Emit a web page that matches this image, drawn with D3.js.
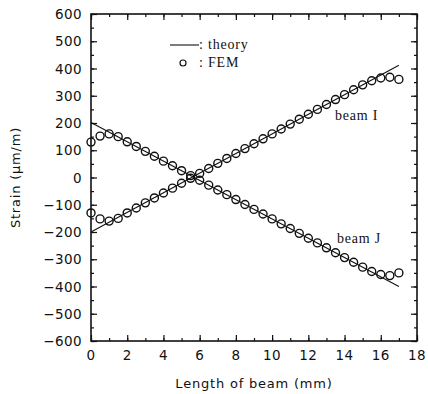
<!DOCTYPE html>
<html>
<head>
<meta charset="utf-8">
<script src="https://cdn.jsdelivr.net/npm/d3@7"></script>
<style>
  body { margin: 0; background: #fff; }
  svg { display: block; }
  .tick-label { font-family: "DejaVu Sans", sans-serif; font-size: 13.5px; fill: #111; letter-spacing: 0.4px; }
  .axis-title { font-family: "DejaVu Sans", sans-serif; font-size: 13px; fill: #111; letter-spacing: 0.8px; }
  .serif { font-family: "Liberation Serif", serif; font-size: 14px; fill: #111; letter-spacing: 0.8px; }
</style>
</head>
<body>
<script>
// beam position (mm) of each FEM node
var positions = [0, 0.5, 1, 1.5, 2, 2.5, 3, 3.5, 4, 4.5, 5, 5.5, 6, 6.5, 7, 7.5, 8, 8.5,
  9, 9.5, 10, 10.5, 11, 11.5, 12, 12.5, 13, 13.5, 14, 14.5, 15, 15.5, 16, 16.5, 17];
var femI = [-130, -152, -160, -150, -130, -112, -93, -75, -57, -39, -21, -3, 15, 33, 52, 70, 88, 106,
  124, 142, 160, 178, 196, 214, 232, 250, 268, 286, 304, 322, 340, 355, 365, 368, 360];
var femJ = [130, 152, 160, 150, 131, 114, 96, 78, 60, 43, 25, 7, -10, -28, -46, -63, -81, -99,
  -117, -134, -152, -170, -187, -205, -223, -240, -258, -276, -294, -311, -329, -345, -356, -360, -350];
// theory lines (straight)
var theoryX = [0, 17];
var theoryI = [-200, 412];
var theoryJ = [202, -400];
var xTicks = [0, 2, 4, 6, 8, 10, 12, 14, 16, 18];
var yTicks = [-600, -500, -400, -300, -200, -100, 0, 100, 200, 300, 400, 500, 600];

draw();

function draw() {
  var W = 428, H = 394;
  var left = 91, right = 417, top = 14, bottom = 341;

  var svg = d3.select('body').append('svg').attr('width', W).attr('height', H);

  var x = d3.scaleLinear().domain([0, 18]).range([left, right]);
  var y = d3.scaleLinear().domain([-600, 600]).range([bottom, top]);

  var xMinor = d3.range(0, 19, 1);
  var yMinor = d3.range(-600, 601, 50);

  // frame ticks, pointing inward on all four sides
  svg.append('g').attr('transform', 'translate(0,' + bottom + ')')
    .call(d3.axisTop(x).tickValues(xMinor).tickSize(3).tickFormat(''));
  svg.append('g').attr('transform', 'translate(0,' + bottom + ')')
    .call(d3.axisTop(x).tickValues(xTicks).tickSize(6).tickFormat(''));
  svg.append('g').attr('transform', 'translate(0,' + top + ')')
    .call(d3.axisBottom(x).tickValues(xMinor).tickSize(3).tickFormat(''));
  svg.append('g').attr('transform', 'translate(0,' + top + ')')
    .call(d3.axisBottom(x).tickValues(xTicks).tickSize(6).tickFormat(''));
  svg.append('g').attr('transform', 'translate(' + left + ',0)')
    .call(d3.axisRight(y).tickValues(yMinor).tickSize(3).tickFormat(''));
  svg.append('g').attr('transform', 'translate(' + left + ',0)')
    .call(d3.axisRight(y).tickValues(yTicks).tickSize(6).tickFormat(''));
  svg.append('g').attr('transform', 'translate(' + right + ',0)')
    .call(d3.axisLeft(y).tickValues(yMinor).tickSize(3).tickFormat(''));
  svg.append('g').attr('transform', 'translate(' + right + ',0)')
    .call(d3.axisLeft(y).tickValues(yTicks).tickSize(6).tickFormat(''));
  svg.selectAll('.domain').remove();
  svg.selectAll('.tick line').attr('stroke', '#111').attr('stroke-width', 1.2);

  svg.append('rect')
    .attr('x', left).attr('y', top)
    .attr('width', right - left).attr('height', bottom - top)
    .attr('fill', 'none').attr('stroke', '#111').attr('stroke-width', 1.6);

  // tick labels
  svg.selectAll('.xl').data(xTicks).enter().append('text')
    .attr('class', 'tick-label')
    .attr('x', function(d) { return x(d); })
    .attr('y', 360)
    .attr('text-anchor', 'middle')
    .text(function(d) { return d; });
  svg.selectAll('.yl').data(yTicks).enter().append('text')
    .attr('class', 'tick-label')
    .attr('x', 82)
    .attr('y', function(d) { return y(d) + 5; })
    .attr('text-anchor', 'end')
    .text(function(d) { return d < 0 ? '\u2212' + Math.abs(d) : d; });

  // axis titles
  svg.append('text').attr('class', 'axis-title')
    .attr('x', (left + right) / 2).attr('y', 388)
    .attr('text-anchor', 'middle')
    .text('Length of beam (mm)');
  svg.append('text').attr('class', 'axis-title')
    .attr('transform', 'translate(20,' + ((top + bottom) / 2) + ') rotate(-90)')
    .attr('text-anchor', 'middle')
    .text('Strain (\u03bcm/m)');

  // theory lines
  var line = d3.line()
    .x(function(d) { return x(d[0]); })
    .y(function(d) { return y(d[1]); });
  [theoryI, theoryJ].forEach(function(vals) {
    svg.append('path')
      .datum(d3.zip(theoryX, vals))
      .attr('d', line)
      .attr('fill', 'none').attr('stroke', '#111').attr('stroke-width', 1.1);
  });

  // FEM circles
  [femI, femJ].forEach(function(vals) {
    svg.append('g').selectAll('circle')
      .data(d3.zip(positions, vals))
      .enter().append('circle')
      .attr('cx', function(d) { return x(d[0]); })
      .attr('cy', function(d) { return y(d[1]); })
      .attr('r', 4)
      .attr('fill', 'none').attr('stroke', '#111').attr('stroke-width', 1.4);
  });

  // legend
  svg.append('line')
    .attr('x1', 170).attr('x2', 199).attr('y1', 45).attr('y2', 45)
    .attr('stroke', '#111').attr('stroke-width', 1.1);
  svg.append('text').attr('class', 'serif').attr('x', 199).attr('y', 49).text(': theory');
  svg.append('circle')
    .attr('cx', 183).attr('cy', 63).attr('r', 3)
    .attr('fill', 'none').attr('stroke', '#111').attr('stroke-width', 1.2);
  svg.append('text').attr('class', 'serif').attr('x', 199).attr('y', 67).text(': FEM');

  // curve labels
  svg.append('text').attr('class', 'serif').attr('x', 335).attr('y', 120).text('beam I');
  svg.append('text').attr('class', 'serif').attr('x', 337).attr('y', 243).text('beam J');
}
</script>
</body>
</html>
